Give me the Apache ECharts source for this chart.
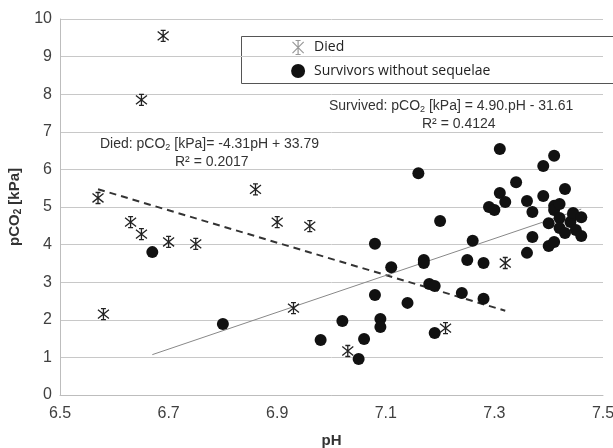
<!DOCTYPE html>
<html>
<head>
<meta charset="utf-8">
<script src="https://cdn.jsdelivr.net/npm/echarts@6/dist/echarts.min.js"></script>
<style>
  html, body { margin: 0; padding: 0; background: #fff; }
  #chart { width: 613px; height: 448px; }
</style>
</head>
<body>
<div id="chart"></div>
<script>
// pH / pCO2 pairs
const diedPH = [6.57, 6.58, 6.63, 6.65, 6.65, 6.69, 6.70, 6.75, 6.86, 6.90, 6.93, 6.96, 7.03, 7.21, 7.32]
const diedCO2 = [5.24, 2.15, 4.60, 4.28, 7.85, 9.55, 4.07, 4.02, 5.47, 4.60, 2.31, 4.49, 1.17, 1.78, 3.51]

const survPH = [
  6.67, 6.80, 6.98, 7.02, 7.05, 7.06, 7.08, 7.08, 7.09, 7.09,
  7.11, 7.14, 7.16, 7.17, 7.17, 7.18, 7.19, 7.19, 7.20, 7.24,
  7.25, 7.26, 7.28, 7.28, 7.29, 7.30, 7.31, 7.31, 7.32, 7.34,
  7.36, 7.36, 7.37, 7.37, 7.39, 7.39, 7.40, 7.40, 7.41, 7.41,
  7.41, 7.41, 7.42, 7.42, 7.42, 7.43, 7.43, 7.44, 7.445, 7.445,
  7.45, 7.46, 7.46
]
const survCO2 = [
  3.80, 1.89, 1.46, 1.97, 0.96, 1.49, 4.02, 2.66, 2.02, 1.81,
  3.40, 2.45, 5.90, 3.59, 3.51, 2.95, 2.90, 1.65, 4.63, 2.71,
  3.59, 4.10, 3.51, 2.56, 5.00, 4.92, 6.54, 5.37, 5.13, 5.66,
  5.16, 3.78, 4.87, 4.20, 6.09, 5.29, 4.57, 3.96, 6.36, 5.03,
  4.92, 4.07, 5.08, 4.71, 4.44, 5.48, 4.31, 4.60, 4.79, 4.84,
  4.39, 4.73, 4.23
]

// trend lines: coefficients printed on the chart, x-range as drawn
const diedFit = [-4.31, 33.79]
const diedFitRange = [6.57, 7.32]
const survFit = [4.90, -31.61]
const survFitRange = [6.67, 7.46]

const xTicks = [6.5, 7.5, 0.2]
const yTicks = [0, 10, 1]

const zip = (xs, ys) => xs.map((x, i) => [x, ys[i]])
const fitLine = (c, r) => r.map(x => [x, c[0] * x + c[1]])

const starIcon = 'path://M-1,-1L1,1M-1,1L1,-1M0,-1.25L0,1.25M-0.45,-1.25L0.45,-1.25M-0.45,1.25L0.45,1.25'
const font = 'Liberation Sans, Arial, sans-serif'

const chart = echarts.init(document.getElementById('chart'))

chart.setOption({
  animation: false,
  grid: { left: 60, right: 10, top: 19, bottom: 53, outerBoundsMode: 'none' },
  legend: {
    orient: 'vertical',
    left: 285,
    top: 33,
    itemWidth: 14,
    itemHeight: 14,
    itemGap: 7,
    textStyle: { fontFamily: 'Open Sans, sans-serif', fontSize: 14, color: '#222', padding: [0, 0, 0, 4] },
    data: [
      { name: 'Died', icon: starIcon, itemStyle: { color: 'none', borderColor: '#999', borderWidth: 1.2 } },
      { name: 'Survivors without sequelae', icon: 'circle', itemStyle: { color: '#111', borderWidth: 0 } }
    ]
  },
  xAxis: {
    type: 'value',
    min: xTicks[0],
    max: xTicks[1],
    interval: xTicks[2],
    name: 'pH',
    nameLocation: 'middle',
    nameGap: 38,
    nameTextStyle: { fontFamily: font, fontSize: 15, fontWeight: 'bold', color: '#333' },
    axisLine: { lineStyle: { color: '#bdbdbd' } },
    axisTick: { show: false },
    splitLine: { show: false },
    axisLabel: {
      fontFamily: font, fontSize: 16, color: '#404040', margin: 11,
      formatter: v => v.toFixed(1)
    }
  },
  yAxis: {
    type: 'value',
    min: yTicks[0],
    max: yTicks[1],
    interval: yTicks[2],
    name: '{a|pCO}{s|2}{a| [kPa]}',
    nameLocation: 'middle',
    nameRotate: 90,
    nameGap: 27,
    nameTextStyle: {
      rich: {
        a: { fontFamily: font, fontSize: 15, fontWeight: 'bold', color: '#333' },
        s: { fontFamily: font, fontSize: 10, fontWeight: 'bold', color: '#333', verticalAlign: 'bottom', padding: [6, 0, 0, 0] }
      }
    },
    axisLine: { show: true, lineStyle: { color: '#bdbdbd' } },
    axisTick: { show: false },
    splitLine: { lineStyle: { color: '#c8c8c8' } },
    axisLabel: { fontFamily: font, fontSize: 16, color: '#404040', margin: 8 }
  },
  series: [
    {
      name: 'Died fit',
      type: 'line',
      data: fitLine(diedFit, diedFitRange),
      showSymbol: false,
      silent: true,
      lineStyle: { color: '#333', width: 2, type: [7, 5] },
      z: 1
    },
    {
      name: 'Survived fit',
      type: 'line',
      data: fitLine(survFit, survFitRange),
      showSymbol: false,
      silent: true,
      lineStyle: { color: '#888', width: 1 },
      z: 1
    },
    {
      name: 'Survivors without sequelae',
      type: 'scatter',
      data: zip(survPH, survCO2),
      symbol: 'circle',
      symbolSize: 12,
      itemStyle: { color: '#111', opacity: 1 },
      z: 2
    },
    {
      name: 'Died',
      type: 'scatter',
      data: zip(diedPH, diedCO2),
      symbol: starIcon,
      symbolSize: 11,
      itemStyle: { color: 'none', borderColor: '#222', borderWidth: 1.3, opacity: 1 },
      z: 3
    }
  ],
  graphic: [
    {
      type: 'rect',
      left: 239,
      top: 34,
      shape: { width: 380, height: 47 },
      style: { fill: 'none', stroke: '#555', lineWidth: 1 },
      silent: true
    },
    {
      type: 'text',
      left: 100,
      top: 137,
      style: {
        text: '{a|Died: pCO}{s|2}{a| [kPa]= -4.31pH + 33.79}',
        rich: {
          a: { fontFamily: font, fontSize: 14, fill: '#333' },
          s: { fontFamily: font, fontSize: 9, fill: '#333', padding: [7, 0, 0, 0] }
        }
      }
    },
    {
      type: 'text',
      left: 175,
      top: 155,
      style: { text: 'R² = 0.2017', fontFamily: font, fontSize: 14, fill: '#333' }
    },
    {
      type: 'text',
      left: 329,
      top: 99,
      style: {
        text: '{a|Survived: pCO}{s|2}{a| [kPa] = 4.90.pH - 31.61}',
        rich: {
          a: { fontFamily: font, fontSize: 14, fill: '#333' },
          s: { fontFamily: font, fontSize: 9, fill: '#333', padding: [7, 0, 0, 0] }
        }
      }
    },
    {
      type: 'text',
      left: 422,
      top: 117,
      style: { text: 'R² = 0.4124', fontFamily: font, fontSize: 14, fill: '#333' }
    }
  ]
})
</script>
</body>
</html>
